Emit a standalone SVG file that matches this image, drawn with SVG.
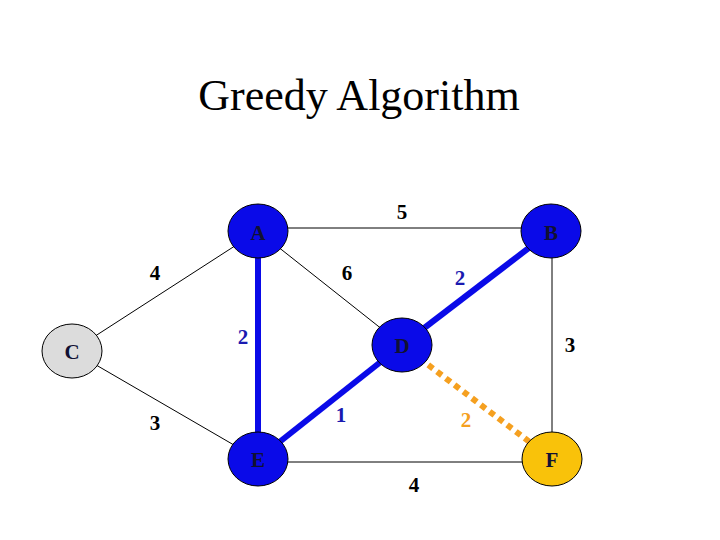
<svg xmlns="http://www.w3.org/2000/svg" width="720" height="540" viewBox="0 0 720 540">
<style>
.thin{stroke:#000;stroke-width:1;fill:none}
.sel{stroke:#0a0ae8;stroke-width:6;fill:none}
.cand{stroke:#f5a020;stroke-width:6;stroke-dasharray:6 5;fill:none}
.node{stroke:#000;stroke-width:1}
.blue{fill:#0a0ae8}
.lbl{font-family:"Liberation Serif",serif;font-weight:bold;font-size:21px;text-anchor:middle;fill:#111133}
.w{font-family:"Liberation Serif",serif;font-weight:bold;font-size:21px;text-anchor:middle;fill:#000}
.wb{fill:#1a1ab0}
.wo{fill:#f5a020}
</style>
<rect width="720" height="540" fill="#fff"/>
<text x="359" y="110" font-family="Liberation Serif,serif" font-size="44" text-anchor="middle" fill="#000">Greedy Algorithm</text>
<g id="connectors">
<line class="thin" x1="258" y1="228" x2="551" y2="228"/>
<line class="thin" x1="258" y1="231" x2="72" y2="351"/>
<line class="thin" x1="258" y1="231" x2="402" y2="345"/>
<line class="thin" x1="552" y1="231" x2="552" y2="459"/>
<line class="thin" x1="72" y1="351" x2="258" y2="459"/>
<line class="thin" x1="258" y1="462" x2="552" y2="462"/>
<line class="sel" x1="258" y1="231" x2="258" y2="459"/>
<line class="sel" x1="551" y1="231" x2="402" y2="345"/>
<line class="sel" x1="402" y1="345" x2="258" y2="459"/>
<line class="cand" x1="402" y1="345" x2="552" y2="459"/>
</g>
<g id="node-A"><ellipse class="node blue" cx="258" cy="231" rx="30" ry="27"/><text class="lbl" x="258" y="240">A</text></g>
<g id="node-B"><ellipse class="node blue" cx="551" cy="231" rx="30" ry="27"/><text class="lbl" x="551" y="240">B</text></g>
<g id="node-C"><ellipse class="node" fill="#dcdcdc" cx="72" cy="351" rx="30" ry="27"/><text class="lbl" x="72" y="359">C</text></g>
<g id="node-D"><ellipse class="node blue" cx="402" cy="345" rx="30" ry="27"/><text class="lbl" x="402" y="353">D</text></g>
<g id="node-E"><ellipse class="node blue" cx="258" cy="459" rx="30" ry="27"/><text class="lbl" x="258" y="467">E</text></g>
<g id="node-F"><ellipse class="node" fill="#f9c20a" cx="552" cy="459" rx="30" ry="27"/><text class="lbl" x="552" y="467">F</text></g>
<g id="weights">
<text class="w" x="402" y="219">5</text>
<text class="w" x="155" y="280">4</text>
<text class="w" x="347" y="280">6</text>
<text class="w wb" x="460" y="285">2</text>
<text class="w wb" x="243" y="344">2</text>
<text class="w" x="570" y="352">3</text>
<text class="w" x="155" y="430">3</text>
<text class="w wb" x="341" y="422">1</text>
<text class="w wo" x="466" y="427">2</text>
<text class="w" x="414" y="492">4</text>
</g>
</svg>
